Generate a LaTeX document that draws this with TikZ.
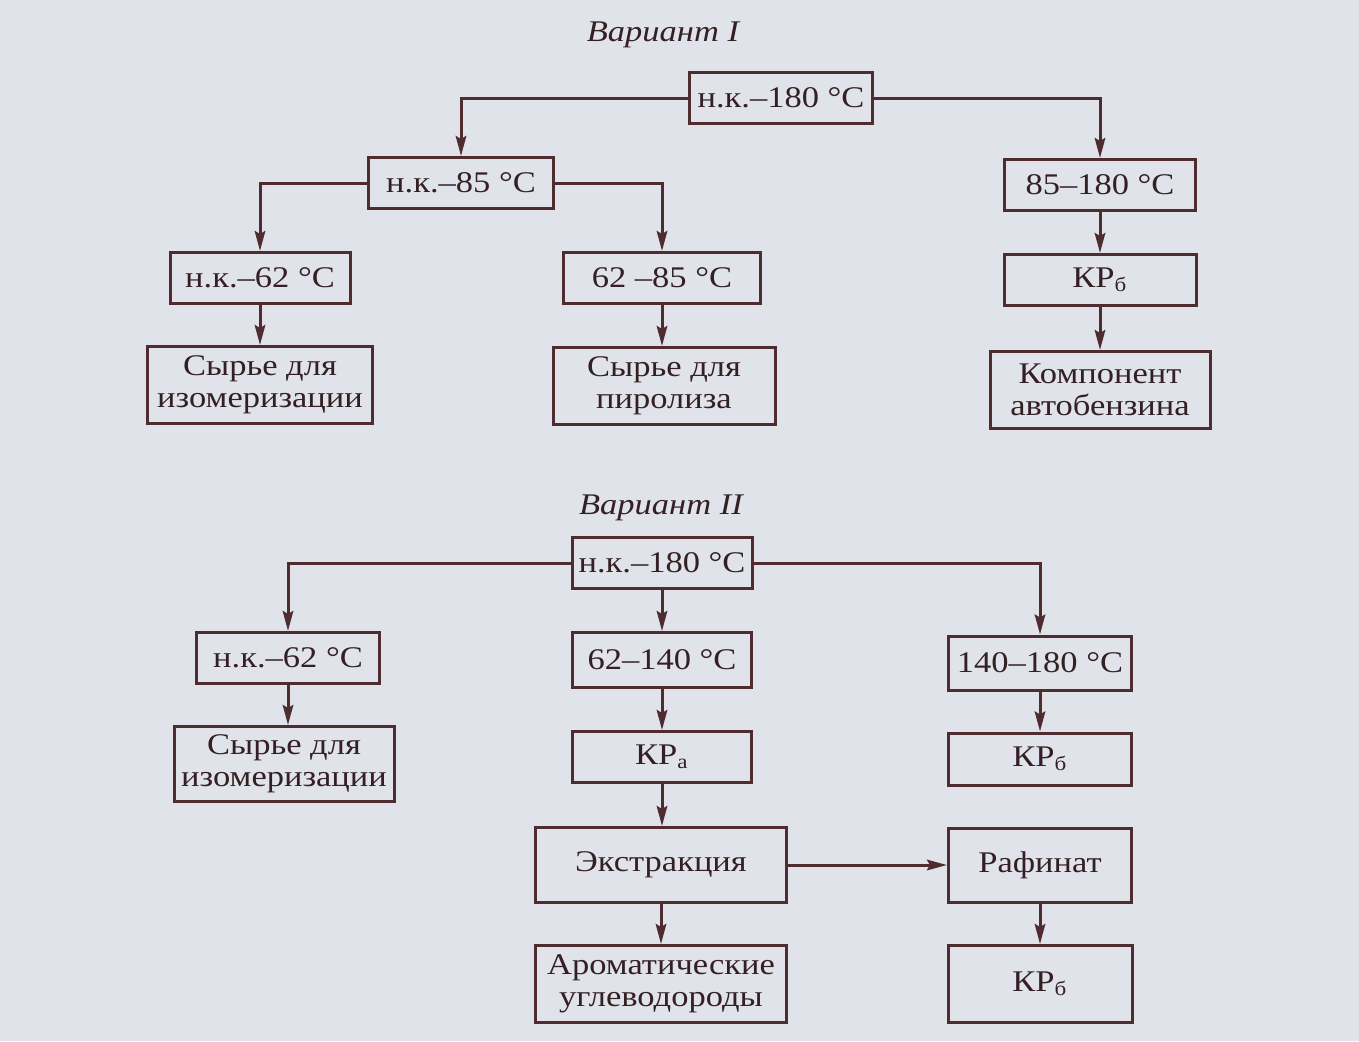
\documentclass[tikz,border=0pt]{standalone}
\usepackage{fontspec}
\setmainfont{Liberation Serif}[FakeStretch=1.15]
\usepackage{xcolor}
\usepackage{tikz}
\usetikzlibrary{arrows.meta}
\definecolor{paper}{RGB}{224,228,234}
\definecolor{ink}{RGB}{78,44,48}
\definecolor{print}{RGB}{52,32,36}
\def\upx{0.4pt}

\begin{document}
\begin{tikzpicture}[x=\upx,y=-\upx,font=\fontsize{12}{12.8}\selectfont]
    \def\linew{1.2pt}
    \def\colL{260}
    \def\colM{662}
    \def\colR{1100}
    \def\colA{288}
    \def\colB{1040}

    \tikzstyle{title}=[text=print,font=\fontsize{12}{12.8}\selectfont\itshape]
    \tikzstyle{cut}=[draw=ink,text=print,line width=\linew,fill=paper,align=center,inner sep=1pt,minimum height=51*\upx]
    \tikzstyle{prod}=[cut,minimum height=77*\upx]

    \fill[paper] (0,0) rectangle (1359,1041);

    % Variant I
    \node[title] (1l) at (663,35) {Вариант I};

    \node[cut,minimum width=183*\upx] (1all) at (781,98) {н.к.–180 °C};
    \node[cut,minimum width=185*\upx] (1b85) at (461,183) {н.к.–85 °C};
    \node[cut,minimum width=191*\upx] (1hi) at (\colR,185) {85–180 °C};

    \node[cut,minimum width=180*\upx] (1b62) at (\colL,278) {н.к.–62 °C};
    \node[cut,minimum width=197*\upx] (1mid) at (\colM,278) {62 –85 °C};
    \node[cut,minimum width=192*\upx] (1kr) at (\colR,280) {КР\textsubscript{б}};

    \node[prod,minimum width=225*\upx] (1iso) at (\colL,385) {Сырье для\\изомеризации};
    \node[prod,minimum width=222*\upx] (1pyr) at (664,386) {Сырье для\\пиролиза};
    \node[prod,minimum width=220*\upx] (1cmp) at (\colR,390) {Компонент\\автобензина};

    % Variant II
    \node[title] (2l) at (661,508) {Вариант II};

    \node[cut,minimum width=180*\upx] (2all) at (\colM,563) {н.к.–180 °C};
    \node[cut,minimum width=183*\upx] (2b62) at (\colA,658) {н.к.–62 °C};
    \node[cut,minimum width=179*\upx,minimum height=55*\upx] (2mid) at (\colM,660) {62–140 °C};
    \node[cut,minimum width=183*\upx,minimum height=54*\upx] (2hi) at (\colB,663) {140–180 °C};

    \node[prod,minimum width=220*\upx,minimum height=75*\upx] (2iso) at (284,764) {Сырье для\\изомеризации};
    \node[cut,minimum width=179*\upx] (2kra) at (\colM,757) {КР\textsubscript{а}};
    \node[cut,minimum width=183*\upx,minimum height=52*\upx] (2krb) at (\colB,759) {КР\textsubscript{б}};

    \node[prod,minimum width=251*\upx,minimum height=75*\upx] (2ext) at (661,865) {Экстракция};
    \node[prod,minimum width=183*\upx,minimum height=74*\upx] (2raf) at (\colB,865) {Рафинат};

    \node[prod,minimum width=251*\upx] (2aro) at (661,984) {Ароматические\\углеводороды};
    \node[prod,minimum width=184*\upx] (2kro) at (\colB,984) {КР\textsubscript{б}};

    \pgfsetarrowsend{Stealth[length=8pt,width=4.2pt,inset=1.2pt]}
    \tikzstyle{fwd} = [draw=ink, line width=1.2pt]

    \draw [fwd] (1all.west) -| (1b85.north);
    \draw [fwd] (1all.east) -| (1hi.north);
    \draw [fwd] (1b85.west) -| (1b62.north);
    \draw [fwd] (1b85.east) -| (1mid.north);
    \draw [fwd] (1b62) -- (1iso);
    \draw [fwd] (1mid.south) -- (1mid.south |- 1pyr.north);
    \draw [fwd] (1hi) -- (1kr);
    \draw [fwd] (1kr) -- (1cmp);

    \draw [fwd] (2all.west) -| (2b62.north);
    \draw [fwd] (2all) -- (2mid);
    \draw [fwd] (2all.east) -| (2hi.north);
    \draw [fwd] (2b62.south) -- (2b62.south |- 2iso.north);
    \draw [fwd] (2mid) -- (2kra);
    \draw [fwd] (2hi) -- (2krb);
    \draw [fwd] (2kra.south) -- (2kra.south |- 2ext.north);
    \draw [fwd] (2ext) -- (2raf);
    \draw [fwd] (2ext) -- (2aro);
    \draw [fwd] (2raf) -- (2kro);

\end{tikzpicture}
\end{document}
